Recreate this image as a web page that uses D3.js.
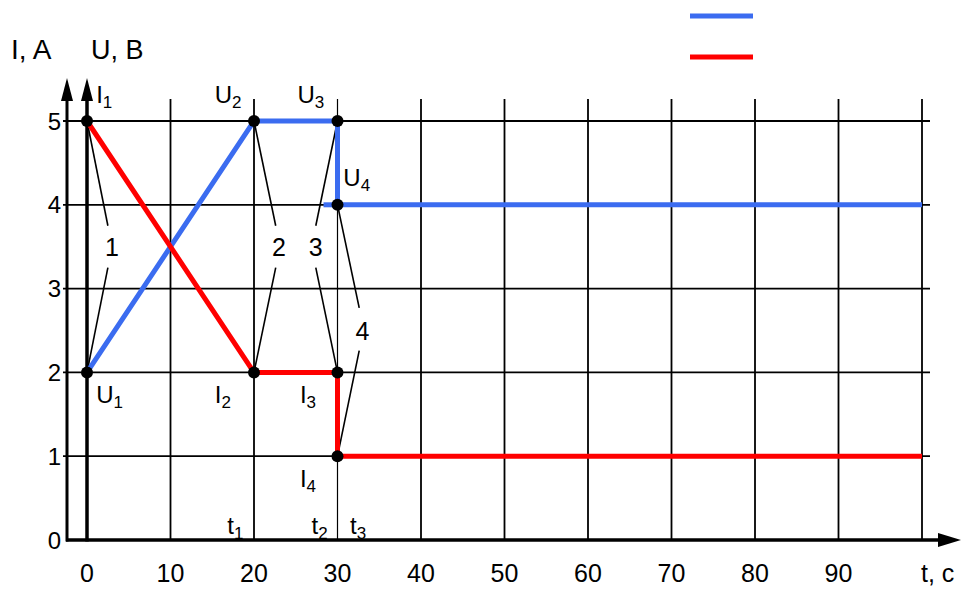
<!DOCTYPE html>
<html lang="en">
<head>
  <meta charset="UTF-8">
  <title>I, U (t)</title>
  <style>
    body { margin: 0; background: #fff; }
    text { font-family: 'Liberation Sans', Arial, sans-serif; fill: #000; }
  </style>
</head>
<body>
  <svg id="svg" width="961" height="589"></svg>
  <script src="https://d3js.org/d3.v7.min.js"></script>
  <script>
    // data
    const xTicks = [0, 10, 20, 30, 40, 50, 60, 70, 80, 90]
    const yTicks = [0, 1, 2, 3, 4, 5]
    const voltage = [[0, 2], [20, 5], [30, 5], [30, 4], [100, 4]]   // U, blue
    const current = [[0, 5], [20, 2], [30, 2], [30, 1], [100, 1]]   // I, red
    const dots = [[0, 5], [0, 2], [20, 5], [20, 2], [30, 5], [30, 2], [30, 4], [30, 1]]
    // numbered callouts: label, position, and the two leader lines [from point, to end]
    const callouts = [
      { label: '1', at: [3.0, 3.5], leaders: [[[0, 5], [2.5, 3.75]], [[0, 2], [2.5, 3.25]]] },
      { label: '2', at: [23.0, 3.5], leaders: [[[20, 5], [22.6, 3.75]], [[20, 2], [22.6, 3.25]]] },
      { label: '3', at: [27.4, 3.5], leaders: [[[30, 5], [27.4, 3.75]], [[30, 2], [27.4, 3.25]]] },
      { label: '4', at: [33.0, 2.5], leaders: [[[30, 4], [32.6, 2.77]], [[30, 1], [32.6, 2.26]]] }
    ]
    // point labels: main letter, subscript, position (text start)
    const pointLabels = [
      { main: 'I', sub: '1', at: [1.1, 5.22] },
      { main: 'U', sub: '2', at: [15.3, 5.22] },
      { main: 'U', sub: '3', at: [25.2, 5.22] },
      { main: 'U', sub: '4', at: [30.7, 4.22] },
      { main: 'U', sub: '1', at: [1.1, 1.63] },
      { main: 'I', sub: '2', at: [15.3, 1.63] },
      { main: 'I', sub: '3', at: [25.5, 1.63] },
      { main: 'I', sub: '4', at: [25.5, 0.63] },
      { main: 't', sub: '1', at: [16.8, 0.07] },
      { main: 't', sub: '2', at: [26.9, 0.07] },
      { main: 't', sub: '3', at: [31.5, 0.07] }
    ]

    const blue = '#3b6cf0'
    const red = '#ff0000'

    const svg = d3.select('#svg')

    const xScale = d3.scaleLinear()
      .domain([0, 100])
      .range([87, 922])

    const yScale = d3.scaleLinear()
      .domain([0, 5])
      .range([540, 121])

    const x0 = xScale(0)
    const y0 = yScale(0)

    // grid
    svg.append('g')
      .selectAll('line')
      .data(yTicks.filter(d => d > 0))
      .join('line')
      .attr('x1', x0 - 24)
      .attr('x2', xScale(100) + 8)
      .attr('y1', d => yScale(d))
      .attr('y2', d => yScale(d))
      .attr('stroke', '#000')
      .attr('stroke-width', 1.8)

    svg.append('g')
      .selectAll('line')
      .data(d3.range(10, 101, 10))
      .join('line')
      .attr('x1', d => xScale(d))
      .attr('x2', d => xScale(d))
      .attr('y1', y0)
      .attr('y2', yScale(5) - 22)
      .attr('stroke', '#000')
      .attr('stroke-width', d => d === 30 ? 1.2 : 1.8)

    // axes with arrows
    const arrowUp = (x) => `M${x},${78} L${x - 6},${101} L${x + 6},${101} Z`
    const axes = svg.append('g')
    axes.append('line')
      .attr('x1', x0 - 20).attr('x2', x0 - 20)
      .attr('y1', y0 + 1.5).attr('y2', 95)
      .attr('stroke', '#000').attr('stroke-width', 3)
    axes.append('path').attr('d', arrowUp(x0 - 20)).attr('fill', '#000')
    axes.append('line')
      .attr('x1', x0).attr('x2', x0)
      .attr('y1', y0 + 1.5).attr('y2', 95)
      .attr('stroke', '#000').attr('stroke-width', 3.5)
    axes.append('path').attr('d', arrowUp(x0)).attr('fill', '#000')
    axes.append('line')
      .attr('x1', x0 - 21).attr('x2', 945)
      .attr('y1', y0).attr('y2', y0)
      .attr('stroke', '#000').attr('stroke-width', 3.5)
    axes.append('path')
      .attr('d', `M961,${y0} L938,${y0 - 7} L938,${y0 + 7} Z`)
      .attr('fill', '#000')

    // tick labels
    svg.append('g')
      .selectAll('text')
      .data(yTicks)
      .join('text')
      .attr('x', 61)
      .attr('y', d => yScale(d))
      .attr('dy', '0.36em')
      .attr('text-anchor', 'end')
      .style('font-size', '24px')
      .text(d => d)

    svg.append('g')
      .selectAll('text')
      .data(xTicks)
      .join('text')
      .attr('x', d => xScale(d))
      .attr('y', 582)
      .attr('text-anchor', 'middle')
      .style('font-size', '25px')
      .text(d => d)

    svg.append('text').attr('x', 921).attr('y', 582).style('font-size', '25px').text('t, c')
    svg.append('text').attr('x', 11).attr('y', 59).style('font-size', '28px').text('I, A')
    svg.append('text').attr('x', 91).attr('y', 59).style('font-size', '27px').text('U, B')

    // leader lines
    const leaders = svg.append('g')
    callouts.forEach(c => {
      leaders.selectAll(null)
        .data(c.leaders)
        .join('line')
        .attr('x1', d => xScale(d[0][0]))
        .attr('y1', d => yScale(d[0][1]))
        .attr('x2', d => xScale(d[1][0]))
        .attr('y2', d => yScale(d[1][1]))
        .attr('stroke', '#000')
        .attr('stroke-width', 1.6)
    })

    svg.append('g')
      .selectAll('text')
      .data(callouts)
      .join('text')
      .attr('x', d => xScale(d.at[0]))
      .attr('y', d => yScale(d.at[1]))
      .attr('dy', '0.36em')
      .attr('text-anchor', 'middle')
      .style('font-size', '25px')
      .text(d => d.label)

    // series
    const line = d3.line()
      .x(d => xScale(d[0]))
      .y(d => yScale(d[1]))

    // small blue stub left of U4, as in the drawing
    svg.append('line')
      .attr('x1', xScale(30) - 14).attr('x2', xScale(30))
      .attr('y1', yScale(4)).attr('y2', yScale(4))
      .attr('stroke', blue).attr('stroke-width', 5)

    svg.append('path')
      .attr('d', line(voltage))
      .attr('fill', 'none')
      .attr('stroke', blue)
      .attr('stroke-width', 5)
      .attr('stroke-linejoin', 'miter')

    svg.append('path')
      .attr('d', line(current))
      .attr('fill', 'none')
      .attr('stroke', red)
      .attr('stroke-width', 5)
      .attr('stroke-linejoin', 'miter')

    svg.append('g')
      .selectAll('circle')
      .data(dots)
      .join('circle')
      .attr('cx', d => xScale(d[0]))
      .attr('cy', d => yScale(d[1]))
      .attr('r', 6)
      .attr('fill', '#000')

    // point labels with subscripts
    const pl = svg.append('g')
      .selectAll('text')
      .data(pointLabels)
      .join('text')
      .attr('x', d => xScale(d.at[0]))
      .attr('y', d => yScale(d.at[1]))
      .style('font-size', '24px')
    pl.append('tspan').text(d => d.main)
    pl.append('tspan')
      .attr('dy', 5)
      .style('font-size', '17px')
      .text(d => d.sub)

    // legend (lines only)
    svg.append('line')
      .attr('x1', 690).attr('x2', 753).attr('y1', 16).attr('y2', 16)
      .attr('stroke', blue).attr('stroke-width', 5)
    svg.append('line')
      .attr('x1', 690).attr('x2', 753).attr('y1', 57).attr('y2', 57)
      .attr('stroke', red).attr('stroke-width', 5)
  </script>
</body>
</html>
